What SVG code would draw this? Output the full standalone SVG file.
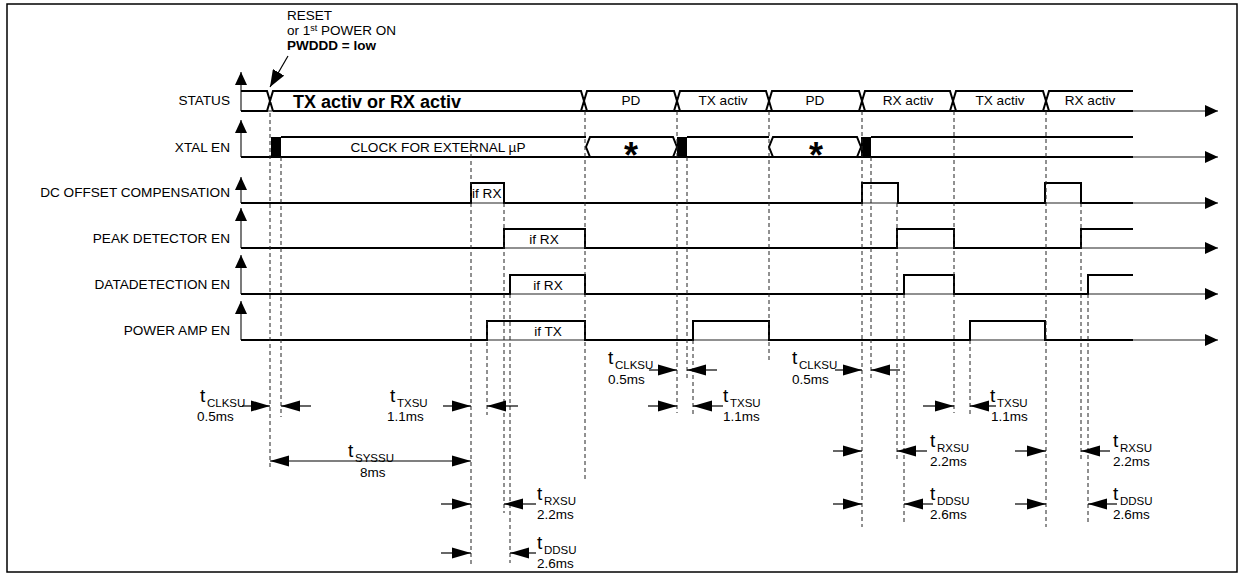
<svg xmlns="http://www.w3.org/2000/svg" width="1242" height="575" viewBox="0 0 1242 575">
<defs>
<style>
text{font-family:"Liberation Sans",Arial,sans-serif;fill:#000}
.lbl{font-size:13.6px;text-anchor:end}
.st{font-size:13.6px;text-anchor:middle}
.star{font-size:36px;font-weight:bold;text-anchor:middle}
.big{font-size:18px;font-weight:bold}
.ann{font-size:13.5px}
.t{font-size:19px}
.sub{font-size:11.5px}
.val{font-size:13.5px}
.sig{fill:none;stroke:#000;stroke-width:2}
.axis{fill:none;stroke:#222;stroke-width:1.2}
.dash{fill:none;stroke:#222;stroke-width:1;stroke-dasharray:4,3}
.tm{fill:none;stroke:#000;stroke-width:1.2}
</style>
<marker id="ah" markerWidth="19" markerHeight="12" refX="19" refY="6" orient="auto-start-reverse" markerUnits="userSpaceOnUse"><path d="M0,0.5 L19,6 L0,11.5 z" fill="#000"/></marker>
<marker id="ax" markerWidth="13" markerHeight="12" refX="13" refY="6" orient="auto" markerUnits="userSpaceOnUse"><path d="M0,0 L13,6 L0,12 z" fill="#000"/></marker>
<marker id="ar" markerWidth="17" markerHeight="13" refX="17" refY="6.5" orient="auto" markerUnits="userSpaceOnUse"><path d="M0,0 L17,6.5 L0,13 z" fill="#000"/></marker>
</defs>
<rect x="7" y="4" width="1230" height="568" fill="#fff" stroke="#000" stroke-width="1.5"/>

<g id="reset-note">
<text class="ann" x="287" y="20">RESET</text>
<text class="ann" x="287" y="35">or 1<tspan font-size="9" dy="-4">st</tspan><tspan dy="4"> POWER ON</tspan></text>
<text class="ann" x="287" y="50" font-weight="bold">PWDDD = low</text>
<line class="tm" x1="288" y1="56" x2="270" y2="87" marker-end="url(#ar)"/>
</g>

<g id="status">
<text class="lbl" x="230" y="105">STATUS</text>
<line class="axis" x1="241" y1="111" x2="241" y2="72" marker-end="url(#ax)"/>
<line class="axis" x1="241" y1="111" x2="1218" y2="111" marker-end="url(#ax)"/>
<path class="sig" d="M241,91 H267 L273,111 M241,111 H267 L273,91 H581 L587,111 H273 M581,111 L587,91 H674 L680,111 H587 M674,111 L680,91 H766 L772,111 H680 M766,111 L772,91 H859 L865,111 H772 M859,111 L865,91 H950 L956,111 H865 M950,111 L956,91 H1043 L1049,111 H956 M1043,111 L1049,91 H1133 M1049,111 H1133"/>
<text class="big" x="293" y="108">TX activ or RX activ</text>
<text class="st" x="631" y="105">PD</text>
<text class="st" x="723" y="105">TX activ</text>
<text class="st" x="815" y="105">PD</text>
<text class="st" x="908" y="105">RX activ</text>
<text class="st" x="1000" y="105">TX activ</text>
<text class="st" x="1090" y="105">RX activ</text>
</g>

<g id="xtal-en">
<text class="lbl" x="230" y="152">XTAL EN</text>
<line class="axis" x1="241" y1="157" x2="241" y2="120" marker-end="url(#ax)"/>
<line class="axis" x1="241" y1="157" x2="1218" y2="157" marker-end="url(#ax)"/>
<path class="sig" d="M241,157 H1133"/>
<rect x="271" y="137" width="10" height="20" fill="#000"/>
<path class="sig" d="M281,137 H586"/>
<path class="sig" d="M590,137 H673 L677,147 L673,157 H590 L586,147 Z"/>
<rect x="677" y="137" width="10" height="20" fill="#000"/>
<path class="sig" d="M687,137 H769"/>
<path class="sig" d="M773,137 H857 L861,147 L857,157 H773 L769,147 Z"/>
<rect x="861" y="137" width="10" height="20" fill="#000"/>
<path class="sig" d="M871,137 H1133"/>
<text class="st" x="438" y="152">CLOCK FOR EXTERNAL µP</text>
<text class="star" x="631" y="168">*</text>
<text class="star" x="816" y="168">*</text>
</g>

<g id="dc-offset">
<text class="lbl" x="230" y="197">DC OFFSET COMPENSATION</text>
<line class="axis" x1="241" y1="203" x2="241" y2="177" marker-end="url(#ax)"/>
<line class="axis" x1="241" y1="203" x2="1218" y2="203" marker-end="url(#ax)"/>
<path class="sig" d="M241,203 H471 V183 H504 V203 H862 V183 H898 V203 H1045 V183 H1081 V203 H1133"/>
<text x="472" y="198" font-size="13.6">if RX</text>
</g>

<g id="peak-detector">
<text class="lbl" x="230" y="243">PEAK DETECTOR EN</text>
<line class="axis" x1="241" y1="248" x2="241" y2="208" marker-end="url(#ax)"/>
<line class="axis" x1="241" y1="248" x2="1218" y2="248" marker-end="url(#ax)"/>
<path class="sig" d="M241,248 H504 V229 H585 V248 H897 V229 H954 V248 H1081 V229 H1133"/>
<text class="st" x="544" y="244">if RX</text>
</g>

<g id="datadetection">
<text class="lbl" x="230" y="289">DATADETECTION EN</text>
<line class="axis" x1="241" y1="294" x2="241" y2="255" marker-end="url(#ax)"/>
<line class="axis" x1="241" y1="294" x2="1218" y2="294" marker-end="url(#ax)"/>
<path class="sig" d="M241,294 H510 V275 H585 V294 H904 V275 H954 V294 H1088 V275 H1133"/>
<text class="st" x="548" y="290">if RX</text>
</g>

<g id="power-amp">
<text class="lbl" x="230" y="335">POWER AMP EN</text>
<line class="axis" x1="241" y1="340" x2="241" y2="301" marker-end="url(#ax)"/>
<line class="axis" x1="241" y1="340" x2="1218" y2="340" marker-end="url(#ax)"/>
<path class="sig" d="M241,340 H487 V321 H585 V340 H693 V321 H769 V340 H970 V321 H1045 V340 H1133"/>
<text class="st" x="548" y="336">if TX</text>
</g>

<g id="connectors">
<path class="dash" d="M270,113 V470 M281,157 V417 M471,140 V567 M487,321 V415 M504,203 V513 M510,294 V563 M585,111 V480 M677,111 V413 M687,157 V380 M693,340 V415 M769,111 V362 M862,111 V527 M871,157 V380 M897,203 V460 M904,294 V523 M954,111 V413 M970,340 V415 M1046,111 V527 M1081,203 V460 M1088,294 V523"/>
<g class="tm">
<line x1="242" y1="406" x2="270" y2="406" marker-end="url(#ah)"/>
<line x1="311" y1="406" x2="281" y2="406" marker-end="url(#ah)"/>
<line x1="443" y1="406" x2="471" y2="406" marker-end="url(#ah)"/>
<line x1="518" y1="406" x2="487" y2="406" marker-end="url(#ah)"/>
<line x1="270" y1="461" x2="471" y2="461" marker-start="url(#ah)" marker-end="url(#ah)"/>
<line x1="441" y1="504" x2="471" y2="504" marker-end="url(#ah)"/>
<line x1="536" y1="504" x2="504" y2="504" marker-end="url(#ah)"/>
<line x1="441" y1="553" x2="471" y2="553" marker-end="url(#ah)"/>
<line x1="536" y1="553" x2="510" y2="553" marker-end="url(#ah)"/>
<line x1="649" y1="370" x2="677" y2="370" marker-end="url(#ah)"/>
<line x1="717" y1="370" x2="687" y2="370" marker-end="url(#ah)"/>
<line x1="648" y1="406" x2="677" y2="406" marker-end="url(#ah)"/>
<line x1="723" y1="406" x2="693" y2="406" marker-end="url(#ah)"/>
<line x1="835" y1="370" x2="862" y2="370" marker-end="url(#ah)"/>
<line x1="900" y1="370" x2="871" y2="370" marker-end="url(#ah)"/>
<line x1="923" y1="406" x2="954" y2="406" marker-end="url(#ah)"/>
<line x1="996" y1="406" x2="970" y2="406" marker-end="url(#ah)"/>
<line x1="833" y1="451" x2="862" y2="451" marker-end="url(#ah)"/>
<line x1="927" y1="451" x2="897" y2="451" marker-end="url(#ah)"/>
<line x1="833" y1="504" x2="862" y2="504" marker-end="url(#ah)"/>
<line x1="933" y1="504" x2="904" y2="504" marker-end="url(#ah)"/>
<line x1="1015" y1="451" x2="1046" y2="451" marker-end="url(#ah)"/>
<line x1="1110" y1="451" x2="1081" y2="451" marker-end="url(#ah)"/>
<line x1="1015" y1="504" x2="1046" y2="504" marker-end="url(#ah)"/>
<line x1="1117" y1="504" x2="1088" y2="504" marker-end="url(#ah)"/>
</g>
</g>

<g id="timing-labels">
<text class="t" x="200" y="402">t</text><text class="sub" x="207" y="407">CLKSU</text><text class="val" x="197" y="421">0.5ms</text>
<text class="t" x="390" y="402">t</text><text class="sub" x="397" y="407">TXSU</text><text class="val" x="387" y="421">1.1ms</text>
<text class="t" x="348" y="457">t</text><text class="sub" x="355" y="462">SYSSU</text><text class="val" x="360" y="477">8ms</text>
<text class="t" x="537" y="500">t</text><text class="sub" x="544" y="505">RXSU</text><text class="val" x="537" y="519">2.2ms</text>
<text class="t" x="537" y="549">t</text><text class="sub" x="544" y="554">DDSU</text><text class="val" x="537" y="568">2.6ms</text>
<text class="t" x="608" y="364">t</text><text class="sub" x="615" y="369">CLKSU</text><text class="val" x="608" y="384">0.5ms</text>
<text class="t" x="723" y="402">t</text><text class="sub" x="730" y="407">TXSU</text><text class="val" x="723" y="421">1.1ms</text>
<text class="t" x="792" y="364">t</text><text class="sub" x="799" y="369">CLKSU</text><text class="val" x="792" y="384">0.5ms</text>
<text class="t" x="990" y="402">t</text><text class="sub" x="997" y="407">TXSU</text><text class="val" x="991" y="421">1.1ms</text>
<text class="t" x="930" y="447">t</text><text class="sub" x="937" y="452">RXSU</text><text class="val" x="930" y="466">2.2ms</text>
<text class="t" x="930" y="500">t</text><text class="sub" x="937" y="505">DDSU</text><text class="val" x="930" y="519">2.6ms</text>
<text class="t" x="1113" y="447">t</text><text class="sub" x="1120" y="452">RXSU</text><text class="val" x="1113" y="466">2.2ms</text>
<text class="t" x="1113" y="500">t</text><text class="sub" x="1120" y="505">DDSU</text><text class="val" x="1113" y="519">2.6ms</text>
</g>
</svg>
